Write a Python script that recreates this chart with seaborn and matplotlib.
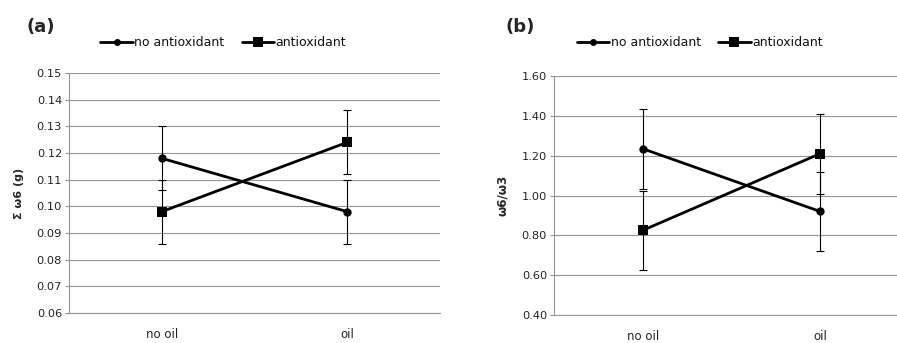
import pandas as pd
import numpy as np
import matplotlib
matplotlib.use("Agg")
import matplotlib.pyplot as plt
import seaborn as sns

# data
oil_labels = ["no oil", "oil"]
treatments = ["no antioxidant", "antioxidant"]

w6_no_antiox = [0.118, 0.098]
w6_no_antiox_err = [0.012, 0.012]
w6_antiox = [0.098, 0.124]
w6_antiox_err = [0.012, 0.012]

ratio_no_antiox = [1.235, 0.92]
ratio_no_antiox_err = [0.20, 0.20]
ratio_antiox = [0.825, 1.21]
ratio_antiox_err = [0.20, 0.20]

sns.set_theme(style="white")
plt.rcParams['font.family'] = ['DejaVu Sans']

fig = plt.figure(figsize=(8.97, 3.43), dpi=100)
ax_a = fig.add_axes([0.0769, 0.0875, 0.4136, 0.6997])
ax_b = fig.add_axes([0.6176, 0.0816, 0.3955, 0.6968])

grid_col = "#959595"


def panel(ax, vals, errs, ylim, yticks, fmt, ylabel, ylabel_size):
    df = pd.DataFrame({
        "pos": [0, 1, 0, 1],
        "value": vals[0] + vals[1],
        "err": errs[0] + errs[1],
        "treatment": [treatments[0]] * 2 + [treatments[1]] * 2,
    })
    sns.lineplot(data=df, x="pos", y="value", hue="treatment", style="treatment",
                 hue_order=treatments, style_order=treatments,
                 palette=["black", "black"], markers={"no antioxidant": "o", "antioxidant": "s"},
                 dashes=False, linewidth=2.0, markeredgewidth=0, ax=ax, zorder=3)
    # marker sizes per series
    for ln in ax.get_lines():
        if ln.get_marker() == "o":
            ln.set_markersize(6)
        elif ln.get_marker() == "s":
            ln.set_markersize(7.5)
    ax.errorbar(df["pos"], df["value"], yerr=df["err"], fmt="none", ecolor="black",
                elinewidth=0.8, capsize=3, capthick=0.8, zorder=2)
    ax.set_xlim(-0.5, 1.5)
    ax.set_ylim(*ylim)
    ax.set_yticks(yticks)
    ax.set_yticklabels([fmt.format(t) for t in yticks], fontsize=8.2, color="#222222")
    ax.set_xticks([0, 1])
    ax.set_xticklabels(oil_labels, fontsize=8.5, color="#222222")
    ax.set_xlabel("")
    ax.set_ylabel(ylabel, fontsize=ylabel_size, fontweight="bold", labelpad=9)
    ax.grid(axis="y", color=grid_col, linewidth=0.8)
    ax.set_axisbelow(True)
    for s in ["top", "right"]:
        ax.spines[s].set_visible(False)
    for s in ["left", "bottom"]:
        ax.spines[s].set_color(grid_col)
        ax.spines[s].set_linewidth(0.8)
    ax.tick_params(axis="y", which="both", left=True, length=3, width=0.8, color=grid_col, pad=2)
    ax.tick_params(axis="x", bottom=False, pad=5)
    leg = ax.get_legend()
    if leg is not None:
        leg.remove()


panel(ax_a, [w6_no_antiox, w6_antiox], [w6_no_antiox_err, w6_antiox_err],
      (0.06, 0.15), np.arange(0.06, 0.1501, 0.01), "{:.2f}", "Σ ω6 (g)", 8)
panel(ax_b, [ratio_no_antiox, ratio_antiox], [ratio_no_antiox_err, ratio_antiox_err],
      (0.40, 1.60), np.arange(0.40, 1.601, 0.20), "{:.2f}", "ω6/ω3", 8.5)

for ax, cx in [(ax_a, 0.249), (ax_b, 0.78)]:
    h, l = ax.get_legend_handles_labels()
    for hd in h:
        if hd.get_marker() == "o":
            hd.set_markersize(5)
        else:
            hd.set_markersize(7)
    fig.legend(h, l, loc="center", bbox_to_anchor=(cx, 0.875), ncol=2, frameon=False,
               fontsize=9, handlelength=2.6, handletextpad=0.1, columnspacing=1.4,
               borderaxespad=0, labelcolor="#111111")

fig.text(0.030, 0.92, "(a)", fontsize=13, fontweight="bold", va="center")
fig.text(0.563, 0.92, "(b)", fontsize=13, fontweight="bold", va="center")

fig.savefig("out.png", dpi=100)
